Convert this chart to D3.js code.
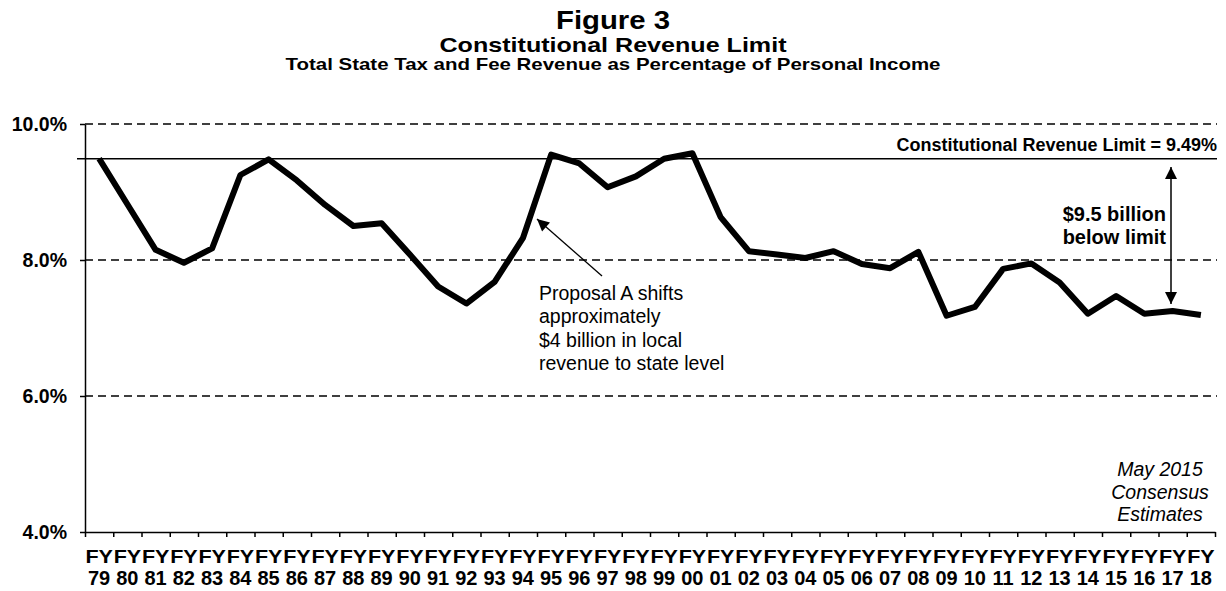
<!DOCTYPE html>
<html lang="en">
  <head>
    <meta charset="utf-8">
    <title>Constitutional Revenue Limit</title>
    <script src="https://cdnjs.cloudflare.com/ajax/libs/d3/7.8.5/d3.min.js"></script>
    <style>
      body { margin: 0; background: #fff; }
      svg text { font-family: "Liberation Sans", Arial, sans-serif; fill: #000; }
      .axis path, .axis line { stroke: #000; stroke-width: 1.5; }
    </style>
  </head>
  <body>
    <script>
      // fiscal years FY79 .. FY18
      var years = ["79","80","81","82","83","84","85","86","87","88","89","90","91","92","93","94","95","96","97","98","99",
                   "00","01","02","03","04","05","06","07","08","09","10","11","12","13","14","15","16","17","18"];
      // revenue as % of personal income
      var revenuePct = [9.49, 8.82, 8.15, 7.96, 8.17, 9.25, 9.48, 9.17, 8.81, 8.50, 8.54, 8.08, 7.61, 7.36, 7.68, 8.32, 9.55, 9.42, 9.07, 9.23, 9.49,
                        9.57, 8.63, 8.13, 8.08, 8.03, 8.13, 7.94, 7.88, 8.12, 7.18, 7.31, 7.87, 7.95, 7.67, 7.21, 7.47, 7.21, 7.25, 7.19];
      var yTicks = [4, 6, 8, 10];
      var revenueLimit = 9.49;

      var w = 1226;
      var h = 591;

      var svg = d3.select("body")
        .append("svg")
        .attr("width", w)
        .attr("height", h);

      var xScale = d3.scaleBand()
          .domain(years)
          .range([85, 1215])
          .padding(0);
      var yScale = d3.scaleLinear()
          .domain([4, 10])
          .range([532, 124]);

      // titles
      svg.append("text").attr("x", 613).attr("y", 29).attr("text-anchor", "middle")
          .attr("font-size", 26).attr("font-weight", "bold")
          .attr("textLength", 114).attr("lengthAdjust", "spacingAndGlyphs")
          .text("Figure 3");
      svg.append("text").attr("x", 613).attr("y", 52).attr("text-anchor", "middle")
          .attr("font-size", 21).attr("font-weight", "bold")
          .attr("textLength", 347).attr("lengthAdjust", "spacingAndGlyphs")
          .text("Constitutional Revenue Limit");
      svg.append("text").attr("x", 613).attr("y", 70).attr("text-anchor", "middle")
          .attr("font-size", 17).attr("font-weight", "bold")
          .attr("textLength", 655).attr("lengthAdjust", "spacingAndGlyphs")
          .text("Total State Tax and Fee Revenue as Percentage of Personal Income");

      // dashed gridlines
      svg.selectAll(".grid")
          .data(yTicks.filter(function(d) { return d > 4; }))
          .enter()
          .append("line")
          .attr("x1", 85)
          .attr("x2", 1217)
          .attr("y1", function(d) { return yScale(d); })
          .attr("y2", function(d) { return yScale(d); })
          .attr("stroke", "#000")
          .attr("stroke-width", 1.5)
          .attr("stroke-dasharray", "8,5");

      // limit line
      svg.append("line")
          .attr("x1", 77).attr("x2", 1217)
          .attr("y1", yScale(revenueLimit)).attr("y2", yScale(revenueLimit))
          .attr("stroke", "#000").attr("stroke-width", 1.5);
      svg.append("text")
          .attr("x", 1217).attr("y", yScale(revenueLimit) - 8)
          .attr("text-anchor", "end")
          .attr("font-size", 18).attr("font-weight", "bold")
          .text("Constitutional Revenue Limit = 9.49%");

      // y axis
      var yAxis = d3.axisLeft(yScale)
          .tickValues(yTicks)
          .tickFormat(function(d) { return d.toFixed(1) + "%"; })
          .tickSize(5)
          .tickSizeOuter(0);
      var gy = svg.append("g")
          .attr("class", "axis")
          .attr("transform", "translate(85,0)")
          .call(yAxis);
      gy.selectAll("text")
          .attr("x", -18)
          .attr("font-size", 19.5)
          .attr("font-weight", "bold")
          .style("font-family", "'Liberation Sans', Arial, sans-serif");

      // x axis: tick marks at category boundaries
      var boundScale = d3.scaleLinear().domain([0, years.length]).range(xScale.range());
      svg.append("g")
          .attr("class", "axis")
          .attr("transform", "translate(0,532)")
          .call(d3.axisBottom(boundScale).ticks(years.length).tickSize(5).tickSizeOuter(0).tickFormat(""));

      var xl = svg.append("g").selectAll("g")
          .data(years)
          .enter()
          .append("g")
          .attr("transform", function(d) { return "translate(" + (xScale(d) + xScale.bandwidth() / 2) + ",0)"; });
      xl.append("text")
          .attr("y", 563).attr("text-anchor", "middle")
          .attr("font-size", 19).attr("font-weight", "bold")
          .attr("textLength", 27.5).attr("lengthAdjust", "spacingAndGlyphs")
          .text("FY");
      xl.append("text")
          .attr("y", 585).attr("text-anchor", "middle")
          .attr("font-size", 20).attr("font-weight", "bold")
          .text(function(d) { return d; });

      // revenue line
      var line = d3.line()
          .x(function(d, i) { return xScale(years[i]) + xScale.bandwidth() / 2; })
          .y(function(d) { return yScale(d); });
      svg.append("path")
          .datum(revenuePct)
          .attr("d", line)
          .attr("fill", "none")
          .attr("stroke", "#000")
          .attr("stroke-width", 6)
          .attr("stroke-linejoin", "round");

      // arrowheads
      var defs = svg.append("defs");
      defs.append("marker")
          .attr("id", "head")
          .attr("viewBox", "0 0 10 10")
          .attr("refX", 10).attr("refY", 5)
          .attr("markerWidth", 15).attr("markerHeight", 12)
          .attr("markerUnits", "userSpaceOnUse")
          .attr("orient", "auto-start-reverse")
          .append("path")
          .attr("d", "M0,0L10,5L0,10Z")
          .attr("fill", "#000");
      defs.append("marker")
          .attr("id", "head2")
          .attr("viewBox", "0 0 10 10")
          .attr("refX", 10).attr("refY", 5)
          .attr("markerWidth", 14).attr("markerHeight", 12)
          .attr("markerUnits", "userSpaceOnUse")
          .attr("orient", "auto-start-reverse")
          .append("path")
          .attr("d", "M0,0L10,5L0,10Z")
          .attr("fill", "#000");

      // Proposal A note
      svg.append("line")
          .attr("x1", 602).attr("y1", 276)
          .attr("x2", 537).attr("y2", 219)
          .attr("stroke", "#000").attr("stroke-width", 1.3)
          .attr("marker-end", "url(#head)");
      var note = ["Proposal A shifts", "approximately", "$4 billion in local", "revenue to state level"];
      svg.append("g").selectAll("text")
          .data(note)
          .enter()
          .append("text")
          .attr("x", 539)
          .attr("y", function(d, i) { return 300 + i * 23.3; })
          .attr("font-size", 19.5)
          .text(function(d) { return d; });

      // gap arrow
      svg.append("line")
          .attr("x1", 1171).attr("x2", 1171)
          .attr("y1", 167).attr("y2", 304)
          .attr("stroke", "#000").attr("stroke-width", 1.5)
          .attr("marker-start", "url(#head2)")
          .attr("marker-end", "url(#head2)");
      svg.append("text").attr("x", 1166).attr("y", 221).attr("text-anchor", "end")
          .attr("font-size", 20).attr("font-weight", "bold").text("$9.5 billion");
      svg.append("text").attr("x", 1166).attr("y", 244).attr("text-anchor", "end")
          .attr("font-size", 20).attr("font-weight", "bold").text("below limit");

      // source note
      var src = ["May 2015", "Consensus", "Estimates"];
      svg.append("g").selectAll("text")
          .data(src)
          .enter()
          .append("text")
          .attr("x", 1160)
          .attr("y", function(d, i) { return 476 + i * 22.5; })
          .attr("text-anchor", "middle")
          .attr("font-size", 19.5)
          .attr("font-style", "italic")
          .text(function(d) { return d; });
    </script>
  </body>
</html>
